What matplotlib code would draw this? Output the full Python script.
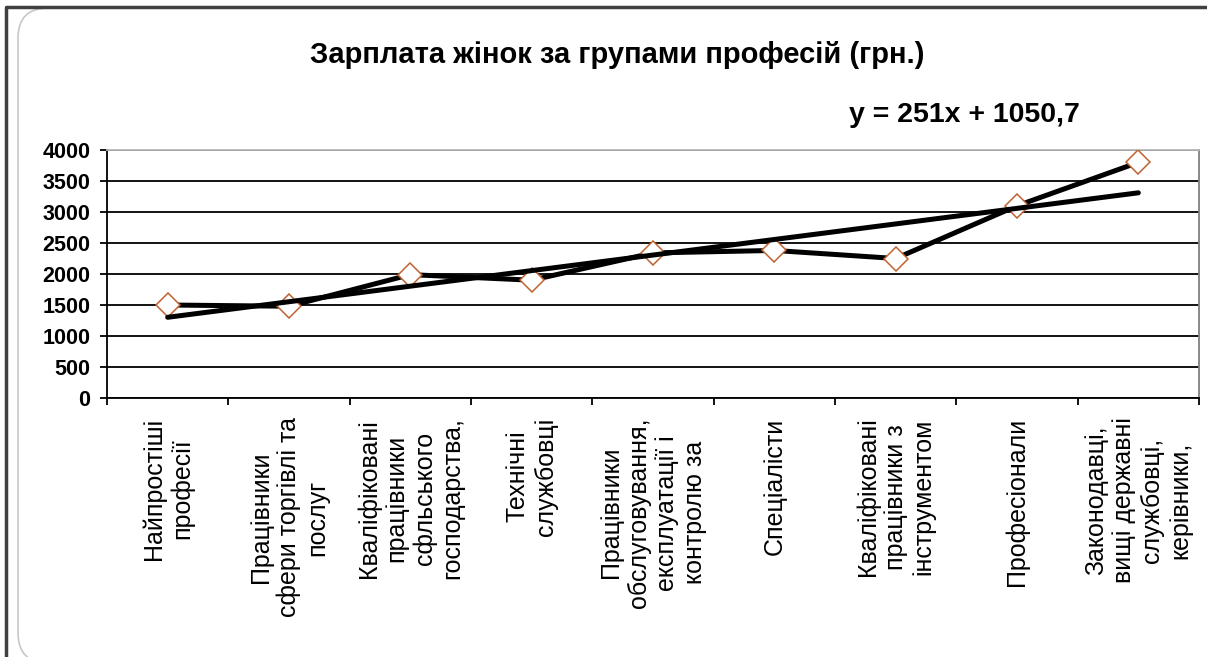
import numpy as np
import matplotlib
matplotlib.use("Agg")
import matplotlib.pyplot as plt
from matplotlib.patches import FancyBboxPatch
from matplotlib.lines import Line2D

categories = [
    "Найпростіші\nпрофесії",
    "Працівники\nсфери торгівлі та\nпослуг",
    "Кваліфіковані\nпрацівники\nсфльського\nгосподарства,",
    "Технічні\nслужбовці",
    "Працівники\nобслуговування,\nексплуатації і\nконтролю за",
    "Спеціалісти",
    "Кваліфіковані\nпрацівники з\nінструментом",
    "Професіонали",
    "Законодавці,\nвищі державні\nслужбовці,\nкерівники,",
]
salary = [1500, 1480, 1990, 1900, 2340, 2380, 2250, 3100, 3800]
trend_slope = 251
trend_intercept = 1050.7
y_ticks = [0, 500, 1000, 1500, 2000, 2500, 3000, 3500, 4000]
title = "Зарплата жінок за групами професій (грн.)"

FONT = ["Liberation Sans", "DejaVu Sans"]
W, H = 1207, 657
fig = plt.figure(figsize=(W / 100, H / 100), dpi=100)
fig.patch.set_facecolor("white")

ax = fig.add_axes([107 / W, 1 - 398 / H, (1199 - 107) / W, (398 - 150) / H])
x = np.arange(1, len(salary) + 1)

ax.plot(x, salary, color="black", lw=3.6, zorder=3, solid_capstyle="butt")
ax.plot(x, salary, linestyle="none", marker="D", markersize=12,
        markerfacecolor="white", markeredgecolor="#C0622F", markeredgewidth=1.1, zorder=4)
xt = np.array([x[0], x[-1]])
ax.plot(xt, trend_slope * xt + trend_intercept, color="black", lw=3.6, zorder=5,
        solid_capstyle="round")

ax.set_xlim(0.5, len(salary) + 0.5)
ax.set_ylim(0, 4000)
ax.set_yticks(y_ticks)
ax.set_yticklabels([str(v) for v in y_ticks], fontsize=15.5, fontweight="bold", family=FONT)
ax.yaxis.grid(True, color="black", lw=1.3)
ax.set_axisbelow(True)
ax.tick_params(axis="y", length=5, width=1.3, pad=7)

ax.set_xticks(np.arange(0.5, len(salary) + 1.5, 1))
ax.set_xticklabels([])
ax.tick_params(axis="x", which="major", length=5, width=1.3)
ax.set_xticks(x, minor=True)
ax.set_xticklabels(categories, minor=True, rotation=90, fontsize=18, family=FONT,
                   va="top", ha="center", multialignment="center", linespacing=1.2)
ax.tick_params(axis="x", which="minor", length=0, pad=14)

for s in ["left", "bottom"]:
    ax.spines[s].set_color("black")
    ax.spines[s].set_linewidth(1.3)
ax.spines["top"].set_color("#b8b8b8")
ax.spines["top"].set_linewidth(1.3)
ax.spines["right"].set_color("#808080")
ax.spines["right"].set_linewidth(1.3)

fig.text(617 / W, 1 - 63 / H, title, ha="center", va="baseline", fontsize=21,
         fontweight="bold", family=FONT)
fig.text(964 / W, 1 - 122 / H, f"y = {trend_slope}x + {str(trend_intercept).replace('.', ',')}",
         ha="center", va="baseline", fontsize=20.5, fontweight="bold", family=FONT)

# chart frame
fig.add_artist(FancyBboxPatch((18 / W, -6 / H), 1.2, 1 - 2 / H,
                              boxstyle="round,pad=0,rounding_size=0.025",
                              transform=fig.transFigure, facecolor="none",
                              edgecolor="#c8c8c8", lw=1.2, mutation_aspect=W / H))
fig.add_artist(Line2D([6 / W, 6 / W, 1], [0, 1 - 7 / H, 1 - 7 / H], transform=fig.transFigure,
                      color="#404040", lw=2.5))

fig.savefig("out.png", dpi=100)
